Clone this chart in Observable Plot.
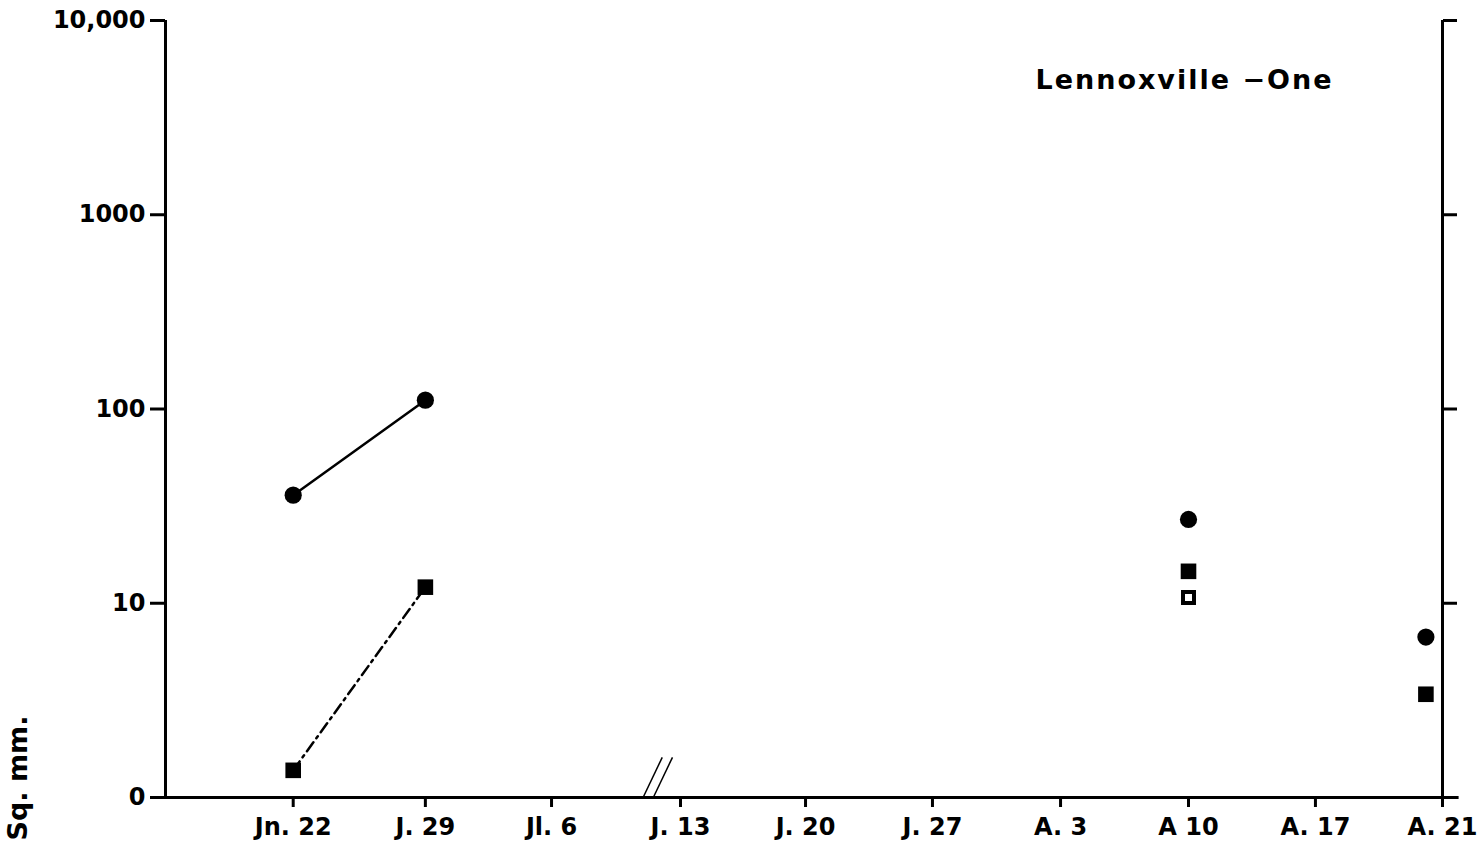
<!DOCTYPE html>
<html><head><meta charset="utf-8">
<script src="https://cdn.jsdelivr.net/npm/d3@7"></script>
<script src="https://cdn.jsdelivr.net/npm/@observablehq/plot@0.6"></script>
<style>
html,body{margin:0;padding:0;background:#fff;}
#chart{position:relative;width:1484px;height:844px;overflow:hidden;}
</style></head><body><div id="chart"></div>
<script>
// Category axis (sampling dates; hand-drawn, nearly equal spacing on the original)
const dateLabels = ["Jn. 22","J. 29","Jl. 6","J. 13","J. 20","J. 27","A. 3","A 10","A. 17","A. 21"];
const datePositions = [0,1.035,2.023,3.033,4.012,5.006,6.009,7.011,8.005,9];
// Log y axis: bottom tick "0" sits at 10^0
const yTicks = [1,10,100,1000,10000];
const yTickLabels = ["0","10","100","1000","10,000"];
// Series: filled circles (solid line between first two)
const circleX = [0,1.035,7.011,8.87];
const circleY = [36,111,27,6.7];
// Series: filled squares (dash-dot line between first two)
const squareX = [0,1.035,7.011,8.87];
const squareY = [1.38,12.1,14.6,3.4];
// Series: open square
const openSquareX = [7.011];
const openSquareY = [10.7];
// Axis break marks "//"
const breakX1 = [2.74,2.82];
const breakX2 = [2.89,2.97];
const breakY1 = [1,1];
const breakY2 = [1.61,1.61];
const titleText = "Lennoxville \u2212One";
const yLabel = "Sq. mm.";

const circles = circleX.map((x,i)=>({x, y: circleY[i]}));
const squares = squareX.map((x,i)=>({x, y: squareY[i]}));
const openSquares = openSquareX.map((x,i)=>({x, y: openSquareY[i]}));
const breaks = breakX1.map((x1,i)=>({x1, x2: breakX2[i], y1: breakY1[i], y2: breakY2[i]}));

const FONT = "DejaVu Sans";
const chart = Plot.plot({
  width: 1484, height: 844,
  marginLeft: 165, marginRight: 42, marginTop: 20, marginBottom: 47,
  style: {fontFamily: FONT, fontWeight: "bold", color: "#000", background: "#fff", overflow: "visible"},
  x: {type: "linear", domain: [-1, 9], axis: null},
  y: {type: "log", domain: [1, 10000], axis: null},
  marks: [
    Plot.axisX(datePositions, {anchor: "bottom", tickSize: 10, tickPadding: 10, strokeWidth: 3,
      tickFormat: d => dateLabels[datePositions.indexOf(d)], fontSize: 24, fontWeight: "bold", fontFamily: FONT, label: null}),
    Plot.axisY(yTicks, {anchor: "left", tickSize: 15, tickPadding: 5, strokeWidth: 3,
      tickFormat: d => yTickLabels[yTicks.indexOf(d)], fontSize: 24, fontWeight: "bold", fontFamily: FONT, label: null}),
    Plot.axisY(yTicks, {anchor: "right", tickSize: 14, strokeWidth: 3, tickFormat: () => "", label: null}),
    Plot.ruleX([-1], {strokeWidth: 3}),
    Plot.ruleX([9], {strokeWidth: 3}),
    Plot.ruleY([1], {strokeWidth: 3, x1: -1, x2: 9.13}),
    Plot.link(breaks, {x1: "x1", x2: "x2", y1: "y1", y2: "y2", strokeWidth: 1.5}),
    Plot.line(circles.slice(0,2), {x: "x", y: "y", strokeWidth: 2.5}),
    Plot.line(squares.slice(0,2), {x: "x", y: "y", strokeWidth: 2.5, strokeDasharray: "11,5,2.5,5"}),
    Plot.dot(circles, {x: "x", y: "y", r: 8.6, symbol: "circle", fill: "#000", stroke: "none"}),
    Plot.dot(squares, {x: "x", y: "y", r: 8.8, symbol: "square", fill: "#000", stroke: "none"}),
    Plot.dot(openSquares, {x: "x", y: "y", r: 6.2, symbol: "square", fill: "#fff", stroke: "#000", strokeWidth: 4}),
    Plot.text([titleText], {text: d => d, frameAnchor: "top-right", dx: -258, dy: 49, textAnchor: "middle",
      fontSize: 27, fontWeight: "bold", fontFamily: FONT}),
    Plot.text([yLabel], {text: d => d, frameAnchor: "bottom-left", dx: -139, dy: 43, rotate: -90,
      textAnchor: "start", fontSize: 27, fontWeight: "bold", fontFamily: FONT})
  ]
});
document.getElementById("chart").appendChild(chart);
d3.select(chart).selectAll("text").filter(function(){ return this.textContent === titleText; })
  .style("letter-spacing", "2px");
</script>
</body></html>
